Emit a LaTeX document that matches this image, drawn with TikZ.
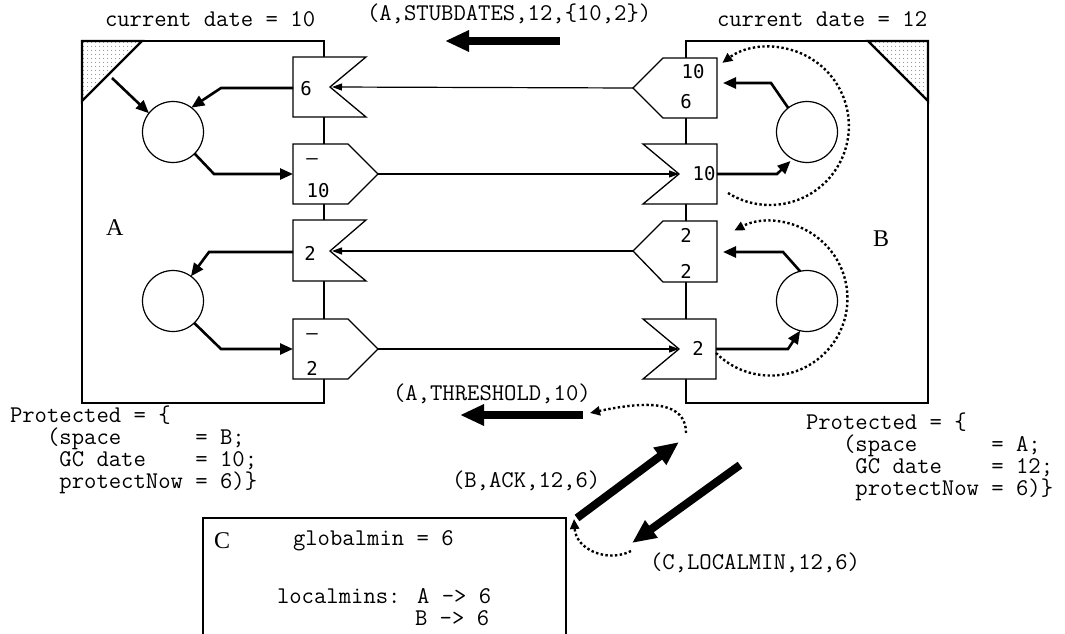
\documentclass[tikz,border=0pt]{standalone}
\usepackage{fontspec}
\setmainfont{Liberation Serif}
\newfontfamily\numf{DejaVu Sans Mono}
\usetikzlibrary{arrows.meta,patterns.meta}
\begin{document}
\begin{tikzpicture}[x=1pt,y=-1pt,
  every node/.style={inner sep=0pt, outer sep=0pt},
  mono/.style={font=\ttfamily\fontsize{24}{24}\selectfont, anchor=base west},
  num/.style={font=\numf\fontsize{19}{20}\selectfont},
  letter/.style={font=\fontsize{24}{24}\selectfont, anchor=base west},
  boxline/.style={draw, line width=1.3pt},
  shapeline/.style={draw, line width=1.3pt, fill=white, line join=miter},
  thinarrow/.style={line width=1.2pt, -{Triangle[length=10pt,width=7pt]}},
  midarrow/.style={line width=2.6pt, -{Triangle[length=13pt,width=11pt]}},
  bigarrow/.style={line width=8pt, -{Triangle[length=24pt,width=20pt]}},
  dotarrow/.style={line width=2.4pt, dash pattern=on 2.4pt off 2.4pt, -{Triangle[length=10pt,width=9pt]}},
  corner/.style={draw, line width=2.2pt, line join=miter, pattern={Dots[distance=4pt,radius=0.6pt]}, pattern color=black!70},
  site/.style={circle, draw, line width=1.2pt, minimum size=61pt},
]
\useasboundingbox (0,0) rectangle (1065,634);
\fill[white] (0,0) rectangle (1065,634);

% ---------- space A ----------
\draw[boxline] (82,41) rectangle (324,403);
\draw[corner] (82,41) -- (142,41) -- (82,101) -- cycle;
\coordinate (triA) at (112,78);
% scion 6
\draw[shapeline] (293,57) -- (366,57) -- (330,87) -- (366,117) -- (293,117) -- cycle;
\coordinate (scA1) at (332,87);
\coordinate (scA1w) at (293,88);
% stub -/10
\draw[shapeline] (293,144) -- (348,144) -- (378,174) -- (348,204) -- (293,204) -- cycle;
\coordinate (stA1) at (378,174);
\coordinate (stA1w) at (293,174);
% scion 2
\draw[shapeline] (293,220) -- (366,220) -- (330,251) -- (366,281) -- (293,281) -- cycle;
\coordinate (scA2) at (332,251);
\coordinate (scA2w) at (293,252);
% stub -/2
\draw[shapeline] (293,319) -- (348,319) -- (378,349) -- (348,379) -- (293,379) -- cycle;
\coordinate (stA2) at (378,349);
\coordinate (stA2w) at (293,349);

% ---------- space B ----------
\draw[boxline] (686,41) rectangle (928,403);
\draw[corner] (868,41) -- (928,41) -- (928,101) -- cycle;
% stub 10/6
\draw[shapeline] (717,58) -- (663,58) -- (633,88) -- (663,118) -- (717,118) -- cycle;
\coordinate (stB1) at (633,88);
\coordinate (stB1e) at (723,83);
% scion 10
\draw[shapeline] (643,144) -- (717,144) -- (717,204) -- (643,204) -- (679,174) -- cycle;
\coordinate (scB1) at (679,174);
\coordinate (scB1e) at (717,174);
% stub 2/2
\draw[shapeline] (717,221) -- (663,221) -- (633,251) -- (663,282) -- (717,282) -- cycle;
\coordinate (stB2) at (633,251);
\coordinate (stB2e) at (723,252);
% scion 2
\draw[shapeline] (643,319) -- (716,319) -- (716,379) -- (643,379) -- (679,349) -- cycle;
\coordinate (scB2) at (679,349);
\coordinate (scB2e) at (716,349);

% ---------- texts in stubs / scions ----------
\node[num] (tA1) at (306,89) {6};
\node[num] (tA2a) at (312,162) {—};
\node[num] (tA2b) at (318,191) {10};
\node[num] (tA3) at (310,253) {2};
\node[num] (tA4a) at (312,337) {—};
\node[num] (tA4b) at (312,368) {2};
\node[num] (tB1a) at (693,72) {10};
\node[num] (tB1b) at (686,102) {6};
\node[num] (tB2) at (704,174) {10};
\node[num] (tB3a) at (686,235) {2};
\node[num] (tB3b) at (686,271) {2};
\node[num] (tB4) at (698,348) {2};

% ---------- thin inter-space references ----------
\draw[thinarrow] (stB1) -- (scA1);
\draw[thinarrow] (stA1) -- (scB1);
\draw[thinarrow] (stB2) -- (scA2);
\draw[thinarrow] (stA2) -- (scB2);

% ---------- objects ----------
\node[site] (ca1) at (173,132) {};
\node[site] (ca2) at (173,301) {};
\node[site] (cb1) at (807,132) {};
\node[site] (cb2) at (807,301) {};

\draw[midarrow] (triA) -- (ca1.142);
\draw[midarrow] (scA1w) -- (221,88) -- (ca1.53);
\draw[midarrow] (ca1.-45) -- (214,174) -- (stA1w);
\draw[midarrow] (scA2w) -- (209,252) -- (ca2.54);
\draw[midarrow] (ca2.-46) -- (221,349) -- (stA2w);

\draw[midarrow] (cb1.128) -- (771,83) -- (stB1e);
\draw[midarrow, shorten >=3pt] (scB1e) -- (777,174) -- (cb1.-118);
\draw[midarrow] (cb2.103) -- (783,252) -- (stB2e);
\draw[midarrow] (scB2e) -- (788,349) -- (cb2.-103);

\draw[dotarrow] (728,193) arc[start angle=122, end angle=-127, radius=79];
\draw[dotarrow] (716,353) arc[start angle=135, end angle=-118, radius=77];

% ---------- labels ----------
\node[mono] (cdA) at (105,27) {current date = 10};
\node[mono] (msgS) at (367,21) {(A,STUBDATES,12,\{10,2\})};
\node[mono] (cdB) at (717,27) {current date = 12};
\node[letter] (lA) at (106,235) {A};
\node[letter] (lB) at (873,246) {B};

\coordinate (bsT) at (560,41);
\coordinate (beT) at (445,41);
\draw[bigarrow] (bsT) -- (beT);

\node[mono] (msgT) at (393,400) {(A,THRESHOLD,10)};
\coordinate (thS) at (583,415);
\coordinate (thE) at (460,415);
\draw[bigarrow] (thS) -- (thE);
\coordinate (dB) at (686,433);
\coordinate (dBe) at (590,413);
\draw[dotarrow] (dB) .. controls (686,402) and (650,400) .. (dBe);

\node[mono] (pA1) at (10,422) {Protected = \{};
\node[mono] (pA2) at (10,444) {~~~(space~~~~~~=~B;};
\node[mono] (pA3) at (10,466) {~~~~GC~date~~~~=~10;};
\node[mono] (pA4) at (10,488) {~~~~protectNow~=~6)\}};

\node[mono] (pB1) at (806,429) {Protected = \{};
\node[mono] (pB2) at (806,451) {~~~(space~~~~~~=~A;};
\node[mono] (pB3) at (806,473) {~~~~GC~date~~~~=~12;};
\node[mono] (pB4) at (806,495) {~~~~protectNow~=~6)\}};

\node[mono] (msgA) at (452,487) {(B,ACK,12,6)};
\coordinate (akS) at (577,518);
\coordinate (akE) at (679,442);
\draw[bigarrow] (akS) -- (akE);
\coordinate (lmS) at (740,465);
\coordinate (lmE) at (632,543);
\draw[bigarrow] (lmS) -- (lmE);
\coordinate (dC) at (631,551);
\coordinate (dCe) at (574,519);
\draw[dotarrow] (dC) .. controls (608,563) and (576,550) .. (dCe);
\node[mono] (msgL) at (650,569) {(C,LOCALMIN,12,6)};

% ---------- space C ----------
\draw[boxline] (203,650) -- (203,518) -- (566,518) -- (566,650);
\node[letter] (lC) at (214,548) {C};
\node[mono] (gm) at (293,545) {globalmin = 6};
\node[mono] (lm1) at (277,603) {localmins: A -> 6};
\node[mono] (lm2) at (415,625) {B -> 6};
\end{tikzpicture}
\end{document}
